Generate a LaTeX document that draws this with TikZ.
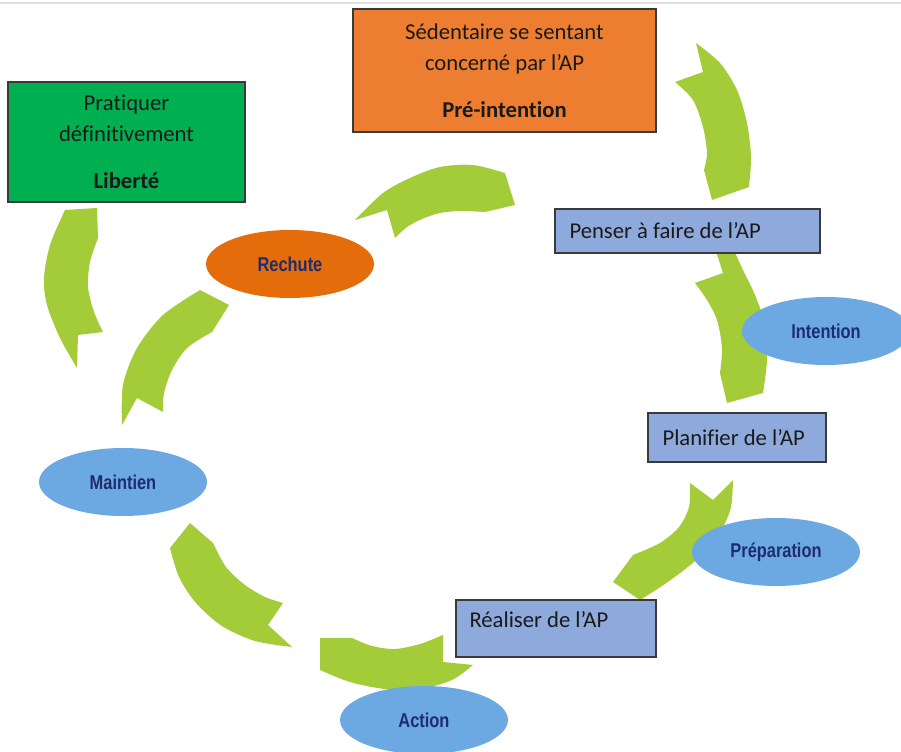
\documentclass[tikz,border=0pt]{standalone}
\usepackage{fontspec}
\setmainfont{Carlito}[Ligatures={NoCommon,NoContextual}]
\newfontfamily\narrowsans[FakeStretch=0.82]{Liberation Sans}
\usetikzlibrary{shapes.geometric}
\definecolor{arrgreen}{HTML}{A4CC39}
\definecolor{boxgreen}{HTML}{00B050}
\definecolor{boxorange}{HTML}{ED7D31}
\definecolor{boxblue}{HTML}{8EA9DB}
\definecolor{ellblue}{HTML}{6CA8E2}
\definecolor{ellorange}{HTML}{E46C0A}
\definecolor{navy}{HTML}{1F2C6E}
\definecolor{boxborder}{HTML}{3A3A3A}
\definecolor{textblack}{HTML}{1A1A1A}
\begin{document}
\begin{tikzpicture}[x=0.75pt,y=-0.75pt,
  arr/.style={fill=arrgreen},
  box/.style={draw=boxborder, line width=1.1pt, rectangle, inner sep=0pt},
  txt/.style={font=\fontsize{17}{23.25}\selectfont, text=textblack},
  lbl/.style={txt, anchor=west, inner sep=0pt},
  ell/.style={ellipse, inner sep=0pt, minimum width=126pt, minimum height=51pt,
    font=\narrowsans\bfseries\fontsize{15}{18}\selectfont, text=navy}]
\useasboundingbox (0,0) rectangle (901,752);
\clip (0,0) rectangle (901,752);
\fill[white] (0,0) rectangle (901,752);
\draw[black!12, line width=0.8pt] (0,3) -- (901,3);

% green curved arrows
% A: Rechute -> Pre-intention
\fill[arr] (355,220) -- plot[smooth] coordinates {(355,220) (383,193) (410,178) (440,167) (473,165) (505,173)}
  -- (515,205) -- (485,212)
  -- plot[smooth] coordinates {(485,212) (460,211) (440,213) (422,219) (407,227) (395,238)}
  -- (387,210) -- cycle;
% B: Pre-intention -> Penser
\fill[arr] (696,43) -- plot[smooth] coordinates {(696,43) (720,63) (737,90) (747,123) (751,157) (749,187)}
  -- (712,200) -- (704,170)
  -- plot[smooth] coordinates {(704,170) (707,153) (703,127) (693,100) (675,82)}
  -- (703,72) -- cycle;
% C: Penser -> Planifier
\fill[arr] (715,248) -- (733,248)
  -- plot[smooth] coordinates {(733,248) (742,268) (755,295) (765,325) (767,360) (763,393)}
  -- (727,403) -- (720,373)
  -- plot[smooth] coordinates {(720,373) (722,348) (717,320) (707,300) (695,283)}
  -- (723,273) -- cycle;
% D: Planifier -> Realiser
\fill[arr] (690,483) -- (713,500) -- (733,480)
  -- plot[smooth] coordinates {(733,480) (731,507) (722,529) (706,551) (684,570) (662,586) (640,600)}
  -- (613,582) -- (633,555)
  -- plot[smooth] coordinates {(633,555) (660,543) (679,527) (689,507) (690,483)}
  -- cycle;
% E: bottom
\fill[arr] (320,638) -- (352,638)
  -- plot[smooth] coordinates {(352,638) (372,646) (395,649) (420,644) (443,635)}
  -- (443,662) -- (473,665)
  -- plot[smooth] coordinates {(473,665) (452,680) (420,689) (385,689) (350,682) (320,670)}
  -- cycle;
% F: lower left
\fill[arr] (170,548) -- (190,523) -- (213,543)
  -- plot[smooth] coordinates {(213,543) (226,567) (245,585) (265,597) (283,603)}
  -- (268,625) -- (292,647)
  -- plot[smooth] coordinates {(292,647) (255,641) (222,626) (196,603) (179,577) (170,548)}
  -- cycle;
% G: Maintien -> Rechute
\fill[arr] (200,290) -- (229,305) -- (212,332)
  -- plot[smooth] coordinates {(212,332) (187,348) (172,370) (164,393) (163,412)}
  -- (137,398) -- (122,425)
  -- plot[smooth] coordinates {(122,425) (123,385) (137,348) (163,315) (200,290)}
  -- cycle;
% H: Maintien -> Liberte
\fill[arr] (65,210) -- (97,208) -- (98,238)
  -- plot[smooth] coordinates {(98,238) (90,262) (88,287) (94,312) (103,332)}
  -- (78,335) -- (77,368)
  -- plot[smooth] coordinates {(77,368) (60,338) (47,305) (44,278) (50,245) (65,210)}
  -- cycle;

% boxes
\node[box, fill=boxorange, minimum width=227.25pt, minimum height=92.25pt, txt, align=center]
  (pre) at (504.5,70.5) {Sédentaire se sentant\\concerné par l’AP\\[12pt]\textbf{Pré-intention}};
\node[box, fill=boxgreen, minimum width=177.75pt, minimum height=90pt, txt, align=center]
  (lib) at (126.5,142) {Pratiquer\\définitivement\\[12pt]\textbf{Liberté}};

\node[box, fill=boxblue, minimum width=198.75pt, minimum height=33pt] (penser) at (687.5,231) {};
\node[lbl] (penserlbl) at ([xshift=11.25pt]penser.west) {Penser à faire de l’AP};
\node[box, fill=boxblue, minimum width=133.5pt, minimum height=36.75pt] (planif) at (737,437.5) {};
\node[lbl] (planiflbl) at ([xshift=11.25pt]planif.west) {Planifier de l’AP};
\node[box, fill=boxblue, minimum width=150pt, minimum height=42.75pt] (realiser) at (556,628.5) {};
\node[lbl] (realiserlbl) at ([xshift=10.5pt,yshift=6.4pt]realiser.west) {Réaliser de l’AP};

% ellipses
\node[ell, fill=ellorange] (rechute) at (290,264) {Rechute};
\node[ell, fill=ellblue] (maintien) at (123,482) {Maintien};
\node[ell, fill=ellblue] (intention) at (826,331) {Intention};
\node[ell, fill=ellblue] (prep) at (776,552) {Préparation};
\node[ell, fill=ellblue] (action) at (424,720) {Action};
\end{tikzpicture}
\end{document}
